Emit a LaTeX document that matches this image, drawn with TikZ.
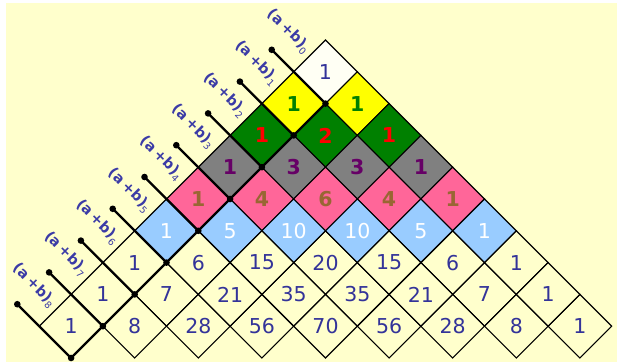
\documentclass[tikz,border=0pt]{standalone}
\usepackage{fontspec}
\setmainfont{DejaVu Sans}
\usetikzlibrary{shapes.geometric,calc}
\definecolor{bgyellow}{HTML}{FFFFCC}
\definecolor{numblue}{HTML}{333399}
\definecolor{labblue}{HTML}{3B3BA6}
\definecolor{rowwhite}{HTML}{FFFFF4}
\definecolor{rowyellow}{HTML}{FFFF00}
\definecolor{rowgreen}{HTML}{008000}
\definecolor{rowgray}{HTML}{808080}
\definecolor{rowpink}{HTML}{FF6699}
\definecolor{rowblue}{HTML}{99CCFF}
\definecolor{txtgreen}{HTML}{008000}
\definecolor{txtred}{HTML}{FF0000}
\definecolor{txtpurple}{HTML}{660066}
\definecolor{txtbrown}{HTML}{996633}
\newcommand\mysubsc[1]{\raisebox{-0.5ex}{\fontsize{9.5}{9.5}\selectfont\mdseries #1}}
\begin{document}
\begin{tikzpicture}[x=1pt,y=-1pt,
  cell/.style={diamond, draw=black, line width=1.1pt, minimum width=63.6pt,
    minimum height=63.6pt, inner sep=0pt, outer sep=0pt,
    font=\fontsize{20.5}{20.5}\selectfont},
  bolddigits/.style={font=\fontsize{20.5}{20.5}\selectfont\bfseries},
  r0/.style={fill=rowwhite, text=numblue},
  r1/.style={fill=rowyellow, text=txtgreen, bolddigits},
  r2/.style={fill=rowgreen, text=txtred, bolddigits},
  r3/.style={fill=rowgray, text=txtpurple, bolddigits},
  r4/.style={fill=rowpink, text=txtbrown, bolddigits},
  r5/.style={fill=rowblue, text=white},
  r6/.style={text=numblue},
  r7/.style={text=numblue},
  r8/.style={text=numblue},
  heavyline/.style={line width=2.3pt, line cap=round, black},
  lab/.style={text=labblue, font=\fontsize{14.5}{14.5}\selectfont\bfseries, inner sep=0pt, rotate=-45},
  blackdot/.style={fill=black}
]
\fill[white] (0,0) rectangle (617,363);
\fill[bgyellow] (6,3) rectangle (617,362);
\useasboundingbox (0,0) rectangle (617,363);

\foreach \n/\vals in {0/{1},1/{1,1},2/{1,2,1},3/{1,3,3,1},4/{1,4,6,4,1},
  5/{1,5,10,10,5,1},6/{1,6,15,20,15,6,1},7/{1,7,21,35,35,21,7,1},
  8/{1,8,28,56,70,56,28,8,1}}{
  \foreach \v [count=\kk from 0] in \vals {
    \node[cell, r\n] (d-\n-\kk) at ({325.5+(2*\kk-\n)*31.8}, {71.8+\n*31.8}) {\v};
  }
}

\draw[heavyline] (d-8-0.south) -- (d-0-0.south);

\foreach \n in {0,...,8}{
  \coordinate (p\n) at ($(d-\n-0.west)+(-22,-22)$);
  \draw[heavyline] (p\n) -- (d-\n-0.west) -- (d-\n-0.south);
  \fill[blackdot] (p\n) circle (3.3pt);
  \fill[blackdot] (d-\n-0.south) circle (3.3pt);
  \node[lab] (l\n) at ($(d-\n-0.west)+(-5.5,-40.5)$) {(a\hspace{3pt}+b)\mysubsc{\n}};
}
\end{tikzpicture}
\end{document}
